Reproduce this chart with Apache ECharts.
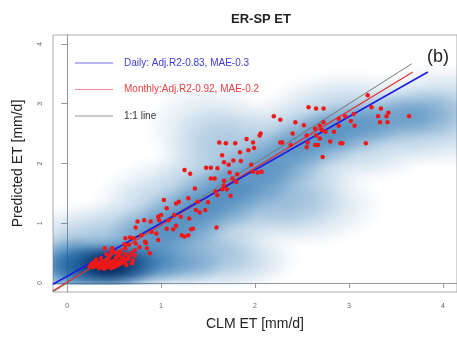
<!DOCTYPE html>
<html>
<head>
<meta charset="utf-8">
<script src="https://cdn.jsdelivr.net/npm/echarts@6/dist/echarts.min.js"></script>
<style>html,body{margin:0;padding:0;background:#fff;}#chart{width:457px;height:339px;}</style>
</head>
<body>
<div id="chart"></div>
<script>
// ---- Data ----
const chartTitle = 'ER-SP ET';
const xAxisTitle = 'CLM ET [mm/d]';
const yAxisTitle = 'Predicted ET [mm/d]';
const panelLabel = '(b)';
const xTicks = [0, 1, 2, 3, 4];
const yTicks = [0, 1, 2, 3, 4];
const axisRange = [-0.15, 4.15];

// Monthly points (CLM ET, Predicted ET)
const monthlyCLM = [3.20,2.57,2.65,2.73,3.24,3.34,3.42,3.40,3.31,2.20,2.27,2.89,2.96,3.05,3.64,3.33,3.41,3.02,2.43,2.52,
 2.73,2.69,2.64,2.89,2.71,2.75,2.40,2.84,3.06,2.55,2.65,2.69,2.80,2.91,2.93,3.18,2.29,2.27,2.56,2.64,
 2.55,2.67,2.38,2.72,2.06,2.05,1.91,1.98,1.99,1.79,1.69,1.62,1.93,1.84,1.85,1.77,1.65,1.67,1.72,1.73,
 1.81,1.96,1.98,2.03,2.07,1.25,1.31,1.48,1.53,1.60,1.57,1.53,1.67,1.65,1.58,1.70,1.67,1.76,1.80,1.74,
 1.60,1.59,1.36,1.29,1.39,1.50,1.47,1.37,1.19,1.16,1.03,1.06,1.00,0.97,1.14,1.21,1.30,1.29,1.22,1.25,
 1.34,1.32,1.41,1.06,1.13,1.16,1.08,0.98,0.89,0.82,0.90,0.95,0.97,0.75,0.73,0.79,0.71,0.73,0.67,0.62,
 0.61,0.83,0.85,0.62,0.57,0.54,0.48,0.47,0.40,
 0.25,0.27,0.28,0.30,0.30,0.32,0.33,0.34,0.35,0.36,0.37,0.38,0.39,0.40,0.41,0.42,0.43,0.44,0.45,0.46,
 0.47,0.48,0.49,0.50,0.51,0.52,0.53,0.54,0.55,0.56,0.57,0.58,0.60,0.61,0.62,0.64,0.66,0.68,0.70,0.72,
 0.63,0.45,0.36,0.31,0.24,0.50,0.55,0.42,0.66,0.77,0.84,0.88,0.69,0.72];
const monthlyPred = [3.14,2.94,2.92,2.92,2.94,2.92,2.85,2.79,2.79,2.79,2.73,2.75,2.79,2.83,2.79,2.69,2.69,2.71,2.69,2.64,
 2.69,2.63,2.58,2.63,2.56,2.53,2.50,2.53,2.63,2.47,2.47,2.42,2.37,2.34,2.34,2.34,2.35,2.35,2.35,2.31,
 2.27,2.31,2.31,2.11,2.50,2.47,2.41,2.35,2.26,2.34,2.34,2.35,2.22,2.19,2.04,2.05,2.14,2.02,1.98,1.85,
 1.82,1.98,1.86,1.85,1.86,1.89,1.83,1.93,1.93,1.92,1.75,1.75,1.71,1.57,1.53,1.57,1.63,1.75,1.69,1.46,
 1.47,0.93,1.58,1.42,1.36,1.35,1.22,1.22,1.36,1.33,1.39,1.25,1.14,1.11,1.14,1.11,1.08,0.80,0.80,0.78,
 0.91,0.90,1.18,0.91,0.90,0.96,1.05,1.05,1.03,1.05,0.86,0.83,0.72,1.03,0.93,0.80,0.75,0.66,0.76,0.75,
 0.65,0.69,0.58,0.58,0.52,0.47,0.58,0.52,0.58,
 0.30,0.33,0.27,0.31,0.36,0.28,0.33,0.25,0.30,0.35,0.27,0.32,0.24,0.29,0.36,0.26,0.31,0.40,0.28,0.34,
 0.25,0.30,0.37,0.27,0.33,0.42,0.29,0.36,0.31,0.45,0.38,0.33,0.42,0.36,0.48,0.40,0.44,0.50,0.38,0.46,
 0.30,0.45,0.42,0.39,0.27,0.52,0.50,0.48,0.64,0.60,0.67,0.50,0.33,0.55];

// Fit lines (end points)
const dailyFitX = [-0.15, 3.84];
const dailyFitY = [-0.02, 3.53];
const monthlyFitX = [-0.15, 3.68];
const monthlyFitY = [-0.13, 3.53];
const oneToOneX = [-0.15, 3.67];
const oneToOneY = [-0.15, 3.67];

// Daily density cloud (kernel blobs): centre x, centre y, radius x, radius y, weight, tone (0 mid, 1 dark)
const densX  = [0.3, 1.2, 2.0, 3.0, 4.0, 2.4, 1.6, 1.5,  0.9, 1.25,1.6, 1.95,2.3, 2.65,3.0, 3.4, 3.8,  0.45,0.42,0.0, 1.1];
const densY  = [0.5, 1.1, 1.9, 2.6, 2.8, 1.3, 0.4, 2.6,  0.75,1.05,1.4, 1.75,2.1, 2.4, 2.6, 2.75,2.85, 0.3, 0.3, 0.3, 0.3];
const densRX = [0.9, 1.0, 1.1, 1.1, 0.8, 1.0, 0.9, 0.7,  0.5, 0.5, 0.5, 0.5, 0.5, 0.5, 0.55,0.55,0.5,  0.85,0.62,0.4, 0.6];
const densRY = [0.9, 1.1, 1.2, 1.0, 0.9, 0.75,0.6, 0.8,  0.6, 0.6, 0.6, 0.55,0.55,0.5, 0.45,0.45,0.45, 0.5, 0.37,0.55,0.4];
const densW  = [0.45,0.4, 0.4, 0.4, 0.35,0.3, 0.35,0.2,  0.5, 0.5, 0.5, 0.45,0.45,0.45,0.42,0.35,0.3,  0.95,1.0, 0.6, 0.45];
const densTone=[0,   0,   0,   0,   0,   0,   0,   0,    0,   0,   0,   0,   0,   0,   0,   0,   0,    0,   1,   0,   0];
const densBottom = -0.03;

// ---- Build ----
const monthlyData = monthlyCLM.map((x, i) => [x, monthlyPred[i]]);
const densData = densX.map((x, i) => [x, densY[i], densRX[i], densRY[i], densW[i], densTone[i]]);
const tones = ['25,105,170', '8,40,95'];
function blobFill(rgb, a) {
  return {type: 'radial', x: 0.5, y: 0.5, r: 0.5, colorStops: [
    {offset: 0, color: `rgba(${rgb},${a})`},
    {offset: 0.3, color: `rgba(${rgb},${a * 0.85})`},
    {offset: 0.6, color: `rgba(${rgb},${a * 0.45})`},
    {offset: 0.85, color: `rgba(${rgb},${a * 0.12})`},
    {offset: 1, color: `rgba(${rgb},0)`}]};
}

const chart = echarts.init(document.getElementById('chart'), null, {renderer: 'canvas'});
const labelFont = 'Liberation Sans, Arial, sans-serif';
const option = {
  animation: false,
  backgroundColor: '#fff',
  title: {
    text: chartTitle, left: 256, top: 8, textAlign: 'center',
    textStyle: {fontFamily: labelFont, fontSize: 13, fontWeight: 'bold', color: '#222'}
  },
  grid: {left: 53, top: 35, width: 410, height: 257, show: true, borderColor: '#aaa', borderWidth: 1, containLabel: false},
  legend: {
    show: true, orient: 'vertical', left: 70, top: 53, itemWidth: 38, itemHeight: 1.2, itemGap: 16.5,
    icon: 'rect',
    textStyle: {fontFamily: labelFont, fontSize: 10, padding: [0, 0, 0, 6]},
    data: [
      {name: 'Daily: Adj.R2-0.83, MAE-0.3', textStyle: {color: '#3c3cd8'}},
      {name: 'Monthly:Adj.R2-0.92, MAE-0.2', textStyle: {color: '#e84040'}},
      {name: '1:1 line', textStyle: {color: '#333'}}
    ]
  },
  xAxis: {
    type: 'value', min: axisRange[0], max: axisRange[1],
    name: xAxisTitle, nameLocation: 'middle', nameGap: 25,
    nameTextStyle: {fontFamily: labelFont, fontSize: 14, color: '#222'},
    axisLine: {show: true, lineStyle: {color: '#999'}},
    axisTick: {show: true, length: 5, customValues: xTicks, lineStyle: {color: '#999'}},
    axisLabel: {customValues: xTicks, fontSize: 7, color: '#666', margin: 11, fontFamily: labelFont},
    splitLine: {show: false}
  },
  yAxis: {
    type: 'value', min: axisRange[0], max: axisRange[1],
    name: yAxisTitle, nameLocation: 'middle', nameGap: 28, nameRotate: 90,
    nameTextStyle: {fontFamily: labelFont, fontSize: 14, color: '#222'},
    axisLine: {show: true, lineStyle: {color: '#999'}},
    axisTick: {show: true, length: 6, customValues: yTicks, lineStyle: {color: '#999'}},
    axisLabel: {customValues: yTicks, fontSize: 7, color: '#666', margin: 9, rotate: 90, fontFamily: labelFont},
    splitLine: {show: false}
  },
  graphic: [{
    type: 'text', left: 427, top: 48, z: 100,
    style: {text: panelLabel, font: '18px Liberation Sans, Arial, sans-serif', fill: '#222'}
  }],
  series: [
    {
      type: 'custom', name: 'density', silent: true, z: 1,
      data: densData,
      renderItem: function (params, api) {
        const c = api.coord([api.value(0), api.value(1)]);
        const s = api.size([api.value(2), api.value(3)]);
        const tl = api.coord([axisRange[0], axisRange[1]]);
        const br = api.coord([axisRange[1], densBottom]);
        return {
          type: 'group',
          clipPath: {type: 'rect', shape: {x: tl[0], y: tl[1], width: br[0] - tl[0], height: br[1] - tl[1]}},
          children: [{
            type: 'circle', x: c[0], y: c[1], scaleX: s[0] / 50, scaleY: s[1] / 50,
            shape: {cx: 0, cy: 0, r: 50},
            style: {fill: blobFill(tones[api.value(5)], api.value(4))}
          }]
        };
      }
    },
    {
      type: 'line', name: '1:1 line', z: 3, symbol: 'none',
      data: oneToOneX.map((x, i) => [x, oneToOneY[i]]),
      lineStyle: {color: '#777', width: 1}, itemStyle: {color: '#999'}
    },
    {
      type: 'line', name: 'Monthly:Adj.R2-0.92, MAE-0.2', z: 4, symbol: 'none',
      data: monthlyFitX.map((x, i) => [x, monthlyFitY[i]]),
      lineStyle: {color: '#e03030', width: 1.3}, itemStyle: {color: '#f39090'}
    },
    {
      type: 'line', name: 'Daily: Adj.R2-0.83, MAE-0.3', z: 5, symbol: 'none',
      data: dailyFitX.map((x, i) => [x, dailyFitY[i]]),
      lineStyle: {color: '#1c1ce0', width: 1.6}, itemStyle: {color: '#7070e0'}
    },
    {
      type: 'scatter', name: 'monthly', z: 6, symbolSize: 4.5,
      data: monthlyData,
      itemStyle: {color: '#f01818', opacity: 1}
    }
  ]
};
chart.setOption(option);
</script>
</body>
</html>
